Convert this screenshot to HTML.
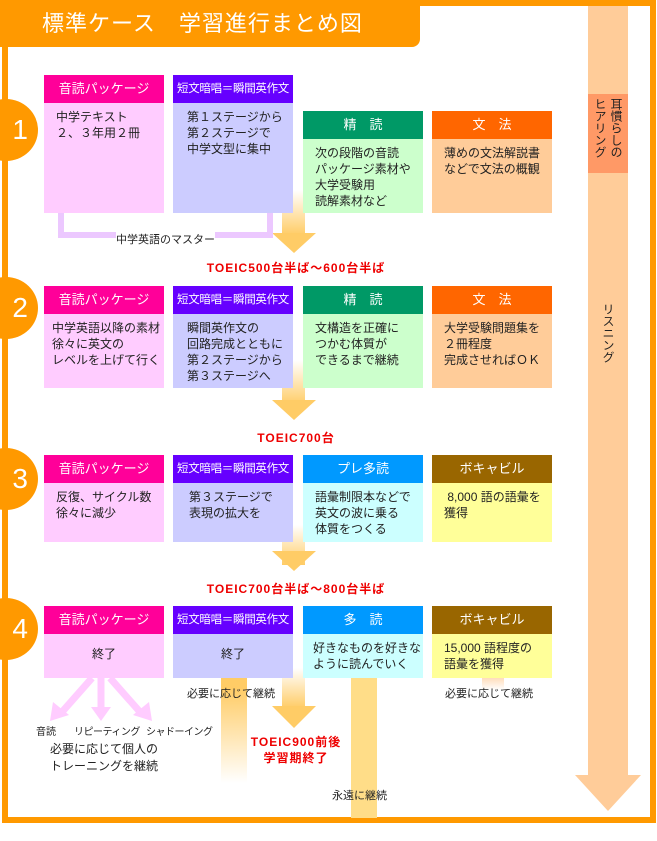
<!DOCTYPE html>
<html><head><meta charset="utf-8"><style>
*{margin:0;padding:0;box-sizing:border-box}
body{width:657px;height:841px;background:#fff;position:relative;overflow:hidden;font-family:"Liberation Sans","Noto Sans CJK JP",sans-serif;color:#222}
.a{position:absolute}
.h{position:absolute;color:#fff;font-size:13px;text-align:center;line-height:28px;height:28px;width:120px}
.h2{font-size:11.5px;letter-spacing:-0.3px}
.b{position:absolute;font-size:12px;line-height:16px;width:120px;padding:6px 0 0 12px}
.c{position:absolute;width:64px;height:62px;border-radius:50%;background:#f90;left:-26px;color:#fff;font-size:28px;line-height:62px;text-align:right;padding-right:10px;font-family:"Liberation Sans",sans-serif}
.t{position:absolute;color:#e00;font-weight:bold;font-size:12px;text-align:center;width:300px;left:146px;letter-spacing:1px}
.s{position:absolute;font-size:11px}
</style></head><body>
<div class="a" style="left:2px;top:0;width:654px;height:823px;border:6px solid #f90"></div>
<div class="a" style="left:0;top:0;width:420px;height:47px;background:#f90;border-bottom-right-radius:8px;color:#fff;font-size:22px;line-height:47px;padding-left:42px;letter-spacing:1px">標準ケース　学習進行まとめ図</div>
<div class="a" style="left:588px;top:6px;width:40px;height:770px;background:#fc9"></div>
<div class="a" style="left:575px;top:775px;width:0;height:0;border-left:33px solid transparent;border-right:33px solid transparent;border-top:36px solid #fc9"></div>
<div class="a" style="left:588px;top:94px;width:40px;height:79px;background:#f96"></div>
<div class="a" style="left:592px;top:98px;writing-mode:vertical-rl;font-size:12px;line-height:16px;height:75px">耳慣らしの<br>ヒアリング</div>
<div class="a" style="left:600px;top:303px;writing-mode:vertical-rl;font-size:12px">リスニング</div>
<div class="c" style="top:99px">1</div>
<div class="c" style="top:277px">2</div>
<div class="c" style="top:448px">3</div>
<div class="c" style="top:598px">4</div>
<div class="a" style="left:282px;top:190px;width:23px;height:45px;background:linear-gradient(rgba(255,204,102,0),#fc6)"></div>
<div class="a" style="left:272px;top:233px;border-left:22px solid transparent;border-right:22px solid transparent;border-top:20px solid #fc6"></div>
<div class="a" style="left:282px;top:360px;width:23px;height:45px;background:linear-gradient(rgba(255,204,102,0),#fc6)"></div>
<div class="a" style="left:272px;top:400px;border-left:22px solid transparent;border-right:22px solid transparent;border-top:20px solid #fc6"></div>
<div class="a" style="left:282px;top:525px;width:23px;height:40px;background:linear-gradient(rgba(255,204,102,0),#fc6)"></div>
<div class="a" style="left:272px;top:551px;border-left:22px solid transparent;border-right:22px solid transparent;border-top:20px solid #fc6"></div>
<div class="a" style="left:282px;top:668px;width:23px;height:40px;background:linear-gradient(rgba(255,204,102,0),#fc6)"></div>
<div class="a" style="left:272px;top:706px;border-left:22px solid transparent;border-right:22px solid transparent;border-top:22px solid #fc6"></div>
<div class="a" style="left:221px;top:678px;width:26px;height:105px;background:linear-gradient(#fc6 10%,rgba(255,204,102,0))"></div>
<div class="a" style="left:351px;top:678px;width:26px;height:140px;background:#fd8"></div>
<div class="a" style="left:482px;top:678px;width:22px;height:12px;background:linear-gradient(#fdb,#fff)"></div>
<div class="a" style="left:58px;top:213px;width:215px;height:25px;border:6px solid #ecc8ff;border-top:none"></div>
<div class="s" style="left:116px;top:231px;background:#fff">中学英語のマスター</div>

<div class="h" style="left:44px;top:75px;background:#f09">音読パッケージ</div>
<div class="b" style="left:44px;top:103px;height:110px;background:#fcf">中学テキスト<br>２、３年用２冊</div>
<div class="h h2" style="left:173px;top:75px;background:#60f">短文暗唱＝瞬間英作文</div>
<div class="b" style="left:173px;top:103px;height:110px;background:#ccf;padding-left:14px">第１ステージから<br>第２ステージで<br>中学文型に集中</div>
<div class="h" style="left:303px;top:111px;background:#096">精　読</div>
<div class="b" style="left:303px;top:139px;height:74px;background:#cfc">次の段階の音読<br>パッケージ素材や<br>大学受験用<br>読解素材など</div>
<div class="h" style="left:432px;top:111px;background:#f60">文　法</div>
<div class="b" style="left:432px;top:139px;height:74px;background:#fc9">薄めの文法解説書<br>などで文法の概観</div>
<div class="t" style="top:259px">TOEIC500台半ば～600台半ば</div>

<div class="h" style="left:44px;top:286px;background:#f09">音読パッケージ</div>
<div class="b" style="left:44px;top:314px;height:74px;background:#fcf;padding-left:8px">中学英語以降の素材<br>徐々に英文の<br>レベルを上げて行く</div>
<div class="h h2" style="left:173px;top:286px;background:#60f">短文暗唱＝瞬間英作文</div>
<div class="b" style="left:173px;top:314px;height:74px;background:#ccf;padding-left:14px">瞬間英作文の<br>回路完成とともに<br>第２ステージから<br>第３ステージへ</div>
<div class="h" style="left:303px;top:286px;background:#096">精　読</div>
<div class="b" style="left:303px;top:314px;height:74px;background:#cfc">文構造を正確に<br>つかむ体質が<br>できるまで継続</div>
<div class="h" style="left:432px;top:286px;background:#f60">文　法</div>
<div class="b" style="left:432px;top:314px;height:74px;background:#fc9">大学受験問題集を<br>２冊程度<br>完成させればＯＫ</div>
<div class="t" style="top:429px">TOEIC700台</div>

<div class="h" style="left:44px;top:455px;background:#f09">音読パッケージ</div>
<div class="b" style="left:44px;top:483px;height:59px;background:#fcf">反復、サイクル数<br>徐々に減少</div>
<div class="h h2" style="left:173px;top:455px;background:#60f">短文暗唱＝瞬間英作文</div>
<div class="b" style="left:173px;top:483px;height:59px;background:#ccf;padding-left:16px">第３ステージで<br>表現の拡大を</div>
<div class="h" style="left:303px;top:455px;background:#09f">プレ多読</div>
<div class="b" style="left:303px;top:483px;height:59px;background:#cff">語彙制限本などで<br>英文の波に乗る<br>体質をつくる</div>
<div class="h" style="left:432px;top:455px;background:#960">ボキャビル</div>
<div class="b" style="left:432px;top:483px;height:59px;background:#ff9">&nbsp;8,000 語の語彙を<br>獲得</div>
<div class="t" style="top:580px">TOEIC700台半ば～800台半ば</div>

<div class="h" style="left:44px;top:606px;background:#f09">音読パッケージ</div>
<div class="b" style="left:44px;top:634px;height:44px;background:#fcf;text-align:center;padding:12px 0 0">終了</div>
<div class="h h2" style="left:173px;top:606px;background:#60f">短文暗唱＝瞬間英作文</div>
<div class="b" style="left:173px;top:634px;height:44px;background:#ccf;text-align:center;padding:12px 0 0">終了</div>
<div class="h" style="left:303px;top:606px;background:#09f">多　読</div>
<div class="b" style="left:303px;top:634px;height:44px;background:#cff;padding-left:10px">好きなものを好きな<br>ように読んでいく</div>
<div class="h" style="left:432px;top:606px;background:#960">ボキャビル</div>
<div class="b" style="left:432px;top:634px;height:44px;background:#ff9">15,000 語程度の<br>語彙を獲得</div>

<svg class="a" style="left:0;top:0" width="657" height="841">
<g stroke="#fcf" stroke-width="7">
<line x1="92" y1="678" x2="62" y2="712"/><line x1="101" y1="678" x2="101" y2="710"/><line x1="110" y1="678" x2="140" y2="712"/>
</g>
<g fill="#fcf">
<polygon points="50,721 53,702 69,715"/><polygon points="101,721 91,707 111,707"/><polygon points="152,721 133,715 149,702"/>
</g>
</svg>
<div class="s" style="left:36px;top:723px;font-size:10px">音読</div>
<div class="s" style="left:74px;top:723px;font-size:10px;letter-spacing:-0.5px">リピーティング</div>
<div class="s" style="left:146px;top:723px;font-size:10px;letter-spacing:-0.5px">シャドーイング</div>
<div class="s" style="left:50px;top:741px;line-height:17px;font-size:12px;text-align:center">必要に応じて個人の<br>トレーニングを継続</div>
<div class="s" style="left:187px;top:685px">必要に応じて継続</div>
<div class="s" style="left:445px;top:685px">必要に応じて継続</div>
<div class="s" style="left:332px;top:787px">永遠に継続</div>
<div class="t" style="top:734px;line-height:16px">TOEIC900前後<br>学習期終了</div>
</body></html>
